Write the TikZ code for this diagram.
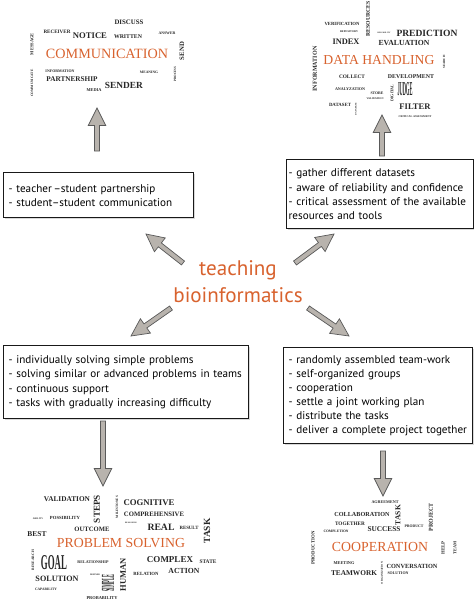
\documentclass[tikz,border=0pt]{standalone}
\usepackage{fontspec}
\setmainfont{PT Sans}
\newfontfamily\cloudfont{Liberation Serif}
\usetikzlibrary{calc}
\usetikzlibrary{shadows}

\definecolor{tborange}{HTML}{D8622E}
\definecolor{cloudink}{HTML}{262626}
\definecolor{arrowgray}{HTML}{B8B3AD}

% word of a given width, in pixels of the reference
\newcommand{\fitw}[2]{\resizebox{\dimexpr0.85358pt*#1\relax}{!}{#2}}
\newcommand{\fitwh}[3]{\resizebox{\dimexpr0.85358pt*#1\relax}{\dimexpr0.85358pt*#2\relax}{#3}}

% grey block arrow from #1 to its tip #2
\newcommand{\blockarrow}[2]{%
    \draw[blockarr] let \p1 = (#1), \p2 = (#2),
        \n1 = {atan2(\y2-\y1, \x2-\x1)} in
        ($(\p1) + ({\n1+90}:2.1pt)$) --
        ($(\p2) + ({\n1+180}:15pt) + ({\n1+90}:2.1pt)$) --
        ($(\p2) + ({\n1+180}:15pt) + ({\n1+90}:7.5pt)$) --
        (\p2) --
        ($(\p2) + ({\n1+180}:15pt) + ({\n1-90}:7.5pt)$) --
        ($(\p2) + ({\n1+180}:15pt) + ({\n1-90}:2.1pt)$) --
        ($(\p1) + ({\n1-90}:2.1pt)$) -- cycle;}

\begin{document}
\begin{tikzpicture}[
        x=0.03cm, y=-0.03cm,
        word/.style={inner sep=0pt, font=\cloudfont\bfseries, text=cloudink},
        title/.style={inner sep=0pt, font=\cloudfont, text=tborange},
        infobox/.style={draw=black!90, very thick, fill=white, anchor=north west,
            align=left, inner xsep=0.15cm, font=\fontsize{9.5}{12}\selectfont,
            drop shadow={shadow xshift=0.8pt, shadow yshift=-0.8pt, opacity=0.3}},
        blockarr/.style={draw=black!65, fill=arrowgray, line width=0.6pt},
    ]

    \useasboundingbox (0,0) rectangle (474,602);

    % centre
    \node[font=\fontsize{18}{23}\selectfont, text=tborange, align=center]
        (teach) at (238,282) {teaching\\bioinformatics};

    % boxes
    \node[infobox, minimum width=5.7cm, minimum height=1.35cm, text width=5.4cm]
        (partnerbox) at (3,172)
        {- teacher\,–student partnership\\- student–student communication};
    \node[infobox, inner xsep=0.06cm, minimum width=5.61cm, minimum height=2.07cm,
        text width=5.49cm]
        (databox) at (286,159)
        {- gather different datasets\\- aware of reliability and confidence\\
         - critical assessment of the available\\resources and tools};
    \node[infobox, minimum width=7.35cm, minimum height=2.19cm, text width=7.05cm]
        (solvebox) at (3,345)
        {- individually solving simple problems\\
         - solving similar or advanced problems in teams\\
         - continuous support\\- tasks with gradually increasing difficulty};
    \node[infobox, minimum width=5.67cm, minimum height=2.88cm, text width=5.37cm]
        (teambox) at (283,347)
        {- randomly assembled team-work\\- self-organized groups\\- cooperation\\
         - settle a joint working plan\\- distribute the tasks\\
         - deliver a complete project together};

    % cloud titles
    \node[title] (comm) at (107,54) {\fitw{122}{COMMUNICATION}};
    \node[title] (datahand) at (379,60) {\fitw{111}{DATA HANDLING}};
    \node[title] (probsolve) at (121,543) {\fitw{128}{PROBLEM SOLVING}};
    \node[title] (coop) at (380,547) {\fitw{96}{COOPERATION}};

    % cloud words, across
    \foreach \x/\y/\w/\t in {
        129/22/29/DISCUSS, 57/32/27/RECEIVER, 90/36/34/NOTICE, 128/37/28/WRITTEN,
        167/33/17/ANSWER, 60/71/29/INFORMATION, 149/72/18/MEANING,
        72/79/51/PARTNERSHIP, 124/85/38/SENDER, 94/90/15/MEDIA,
        342/24/35/VERIFICATION, 349/32/18/REPOSITORY, 346/42/27/INDEX,
        384/33/13/RELIABILITY, 427/33/61/PREDICTION, 404/43/51/EVALUATION,
        352/77/26/COLLECT, 411/77/46/DEVELOPMENT, 350/89/30/ANALYZATION,
        377/93/13/STORE, 375/99/17/VALIDATION, 340/105/22/DATASET,
        415/107/31/FILTER, 415/117/33/CRITICAL ASSESSMENT,
        67/499/46/VALIDATION, 149/503/51/COGNITIVE, 38/519/10/ABILITY,
        65/518/30/POSSIBILITY, 154/514/60/COMPREHENSIVE, 92/529/35/OUTCOME,
        131/523/12/REASONING, 161/527/27/REAL, 189/528/19/RESULT, 37/534/19/BEST,
        93/562/31/RELATIONSHIP, 170/560/46/COMPLEX, 208/562/17/STATE,
        184/571/31/ACTION, 146/574/25/RELATION, 57/579/43/SOLUTION,
        95/575/10/DEFINED, 46/589/22/CAPABILITY, 102/598/31/PROBABILITY,
        385/502/27/AGREEMENT, 362/514/55/COLLABORATION, 350/524/30/TOGETHER,
        336/531/25/COMPLETION, 384/529/33/SUCCESS, 414/526/19/PRODUCT,
        344/563/21/MEETING, 412/566/51/CONVERSATION, 354/573/46/TEAMWORK,
        398/573/21/SOLUTION}
        \node[word] at (\x,\y) {\fitw{\w}{\t}};

    % cloud words, upright
    \foreach \x/\y/\w/\t in {
        32/44/22/MESSAGE, 182/51/18/SEND, 175/74/15/PROCESS, 32/83/27/COMMUNICATE,
        368/19/35/RESOURCES, 315/69/45/INFORMATION, 444/62/13/SEARCH,
        392/93/17/DIGITAL, 356/109/12/DATABASE,
        97/509/28/STEPS, 117/507/22/MILESTONES, 207/531/25/TASK,
        33/560/20/RESEARCH, 123/575/33/HUMAN,
        398/515/20/TASK, 431/517/28/PROJECT, 313/548/33/PRODUCTION,
        443/548/13/HELP, 455/548/13/TEAM, 382/573/22/ORGANIZATION}
        \node[word, rotate=90] at (\x,\y) {\fitw{\w}{\t}};

    % narrow ones
    \node[word] at (405,89) {\fitwh{15}{13}{JUDGE}};
    \node[word] at (54,563) {\fitwh{26}{14}{GOAL}};
    \node[word, rotate=90] at (108,583) {\fitwh{17}{12}{SIMPLE}};

    % arrows
    \coordinate (commA) at (97,151);
    \coordinate (commB) at (97,108);
    \coordinate (dataA) at (382,156);
    \coordinate (dataB) at (382,115);
    \coordinate (nwA) at (183,263);
    \coordinate (nwB) at (146,234);
    \coordinate (neA) at (295,263);
    \coordinate (neB) at (334,234);
    \coordinate (swA) at (171,308);
    \coordinate (swB) at (131,336);
    \coordinate (seA) at (308,308);
    \coordinate (seB) at (349,336);
    \coordinate (solveA) at (103,421);
    \coordinate (solveB) at (103,486);
    \coordinate (teamA) at (383,451);
    \coordinate (teamB) at (383,496);

    \blockarrow{commA}{commB}
    \blockarrow{dataA}{dataB}
    \blockarrow{nwA}{nwB}
    \blockarrow{neA}{neB}
    \blockarrow{swA}{swB}
    \blockarrow{seA}{seB}
    \blockarrow{solveA}{solveB}
    \blockarrow{teamA}{teamB}

\end{tikzpicture}
\end{document}
